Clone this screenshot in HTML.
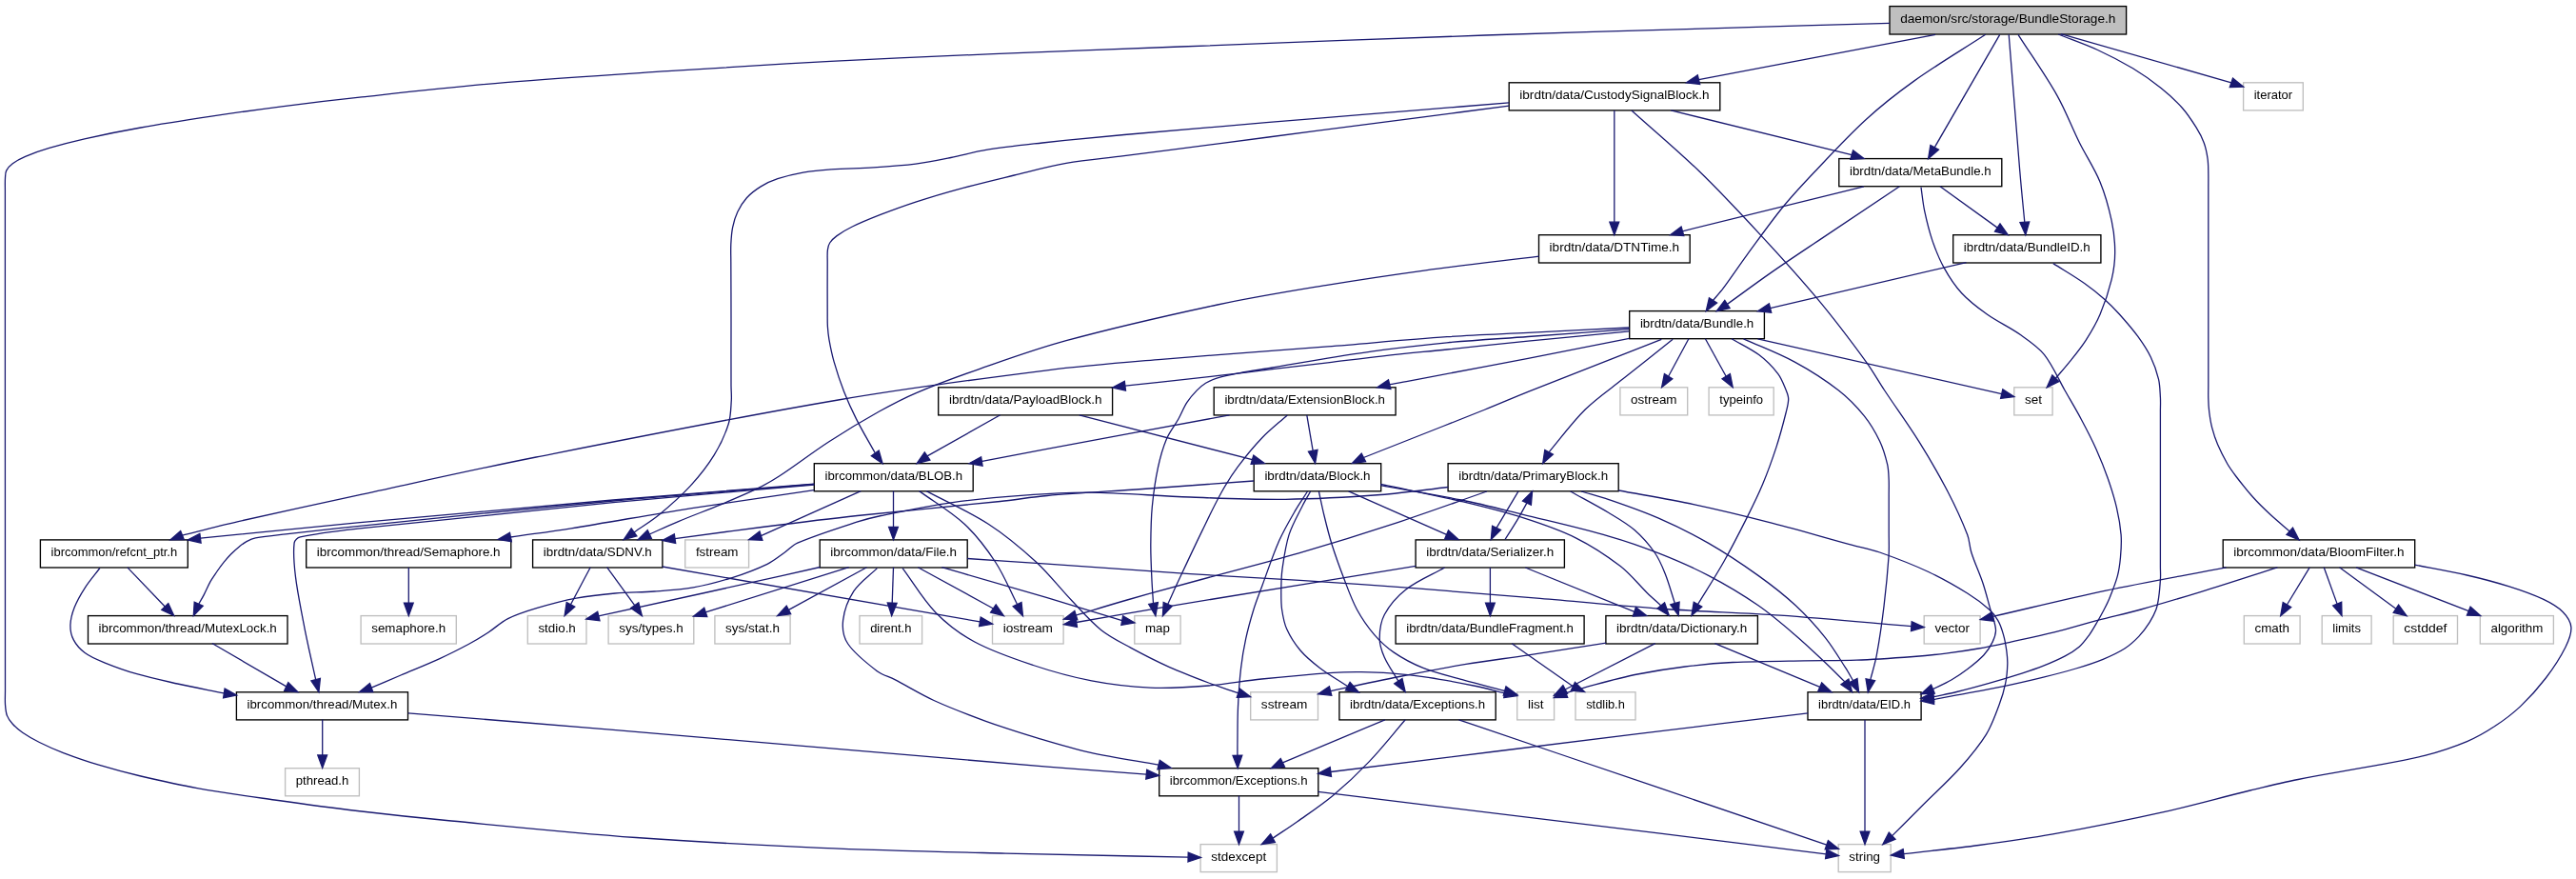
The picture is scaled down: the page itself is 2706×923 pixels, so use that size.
<!DOCTYPE html><html><head><meta charset="utf-8"><title>graph</title><style>html,body{margin:0;padding:0;background:#fff}svg{display:block;will-change:transform}text{font-family:"Liberation Sans",sans-serif;font-size:13.4px;fill:#000;text-anchor:middle}.e{fill:none;stroke:#191970;stroke-width:1.3}.a{fill:#191970;stroke:#191970;stroke-width:1.3;stroke-linejoin:miter}.n{fill:#fff;stroke:#000;stroke-width:1.35}.g{fill:#fff;stroke:#bfbfbf;stroke-width:1.35}.r{fill:#bfbfbf;stroke:#000;stroke-width:1.35}</style></head><body>
<svg width="2706" height="923" viewBox="0 0 2706 923">
<rect width="2706" height="923" fill="#fff"/>
<rect class="r" x="1985.0" y="6.6" width="248.6" height="29.4"/>
<text x="2109.3" y="23.7" textLength="226.3" lengthAdjust="spacingAndGlyphs">daemon/src/storage/BundleStorage.h</text>
<rect class="n" x="1585.2" y="86.8" width="221.6" height="29.1"/>
<text x="1696.0" y="103.8" textLength="199.3" lengthAdjust="spacingAndGlyphs">ibrdtn/data/CustodySignalBlock.h</text>
<rect class="g" x="2356.6" y="86.8" width="62.7" height="29.1"/>
<text x="2387.9" y="103.8" textLength="40.4" lengthAdjust="spacingAndGlyphs">iterator</text>
<rect class="n" x="1931.8" y="166.6" width="171.0" height="29.1"/>
<text x="2017.3" y="183.5" textLength="148.7" lengthAdjust="spacingAndGlyphs">ibrdtn/data/MetaBundle.h</text>
<rect class="n" x="1616.5" y="246.7" width="158.7" height="29.3"/>
<text x="1695.8" y="263.8" textLength="136.4" lengthAdjust="spacingAndGlyphs">ibrdtn/data/DTNTime.h</text>
<rect class="n" x="2051.7" y="246.7" width="155.2" height="29.3"/>
<text x="2129.3" y="263.8" textLength="132.9" lengthAdjust="spacingAndGlyphs">ibrdtn/data/BundleID.h</text>
<rect class="n" x="1711.7" y="326.6" width="141.7" height="29.1"/>
<text x="1782.6" y="343.5" textLength="119.4" lengthAdjust="spacingAndGlyphs">ibrdtn/data/Bundle.h</text>
<rect class="n" x="985.7" y="406.8" width="182.9" height="29.1"/>
<text x="1077.2" y="423.8" textLength="160.6" lengthAdjust="spacingAndGlyphs">ibrdtn/data/PayloadBlock.h</text>
<rect class="n" x="1275.2" y="406.8" width="190.9" height="29.1"/>
<text x="1370.7" y="423.8" textLength="168.6" lengthAdjust="spacingAndGlyphs">ibrdtn/data/ExtensionBlock.h</text>
<rect class="g" x="1701.9" y="406.8" width="70.8" height="29.1"/>
<text x="1737.3" y="423.8" textLength="48.5" lengthAdjust="spacingAndGlyphs">ostream</text>
<rect class="g" x="1795.1" y="406.8" width="68.1" height="29.1"/>
<text x="1829.2" y="423.8" textLength="45.8" lengthAdjust="spacingAndGlyphs">typeinfo</text>
<rect class="g" x="2115.8" y="406.8" width="40.3" height="29.1"/>
<text x="2135.9" y="423.8" textLength="18.0" lengthAdjust="spacingAndGlyphs">set</text>
<rect class="n" x="855.3" y="486.7" width="166.9" height="29.1"/>
<text x="938.8" y="503.6" textLength="144.6" lengthAdjust="spacingAndGlyphs">ibrcommon/data/BLOB.h</text>
<rect class="n" x="1317.2" y="486.7" width="133.5" height="29.1"/>
<text x="1384.0" y="503.6" textLength="111.2" lengthAdjust="spacingAndGlyphs">ibrdtn/data/Block.h</text>
<rect class="n" x="1521.1" y="486.7" width="179.1" height="29.1"/>
<text x="1610.7" y="503.6" textLength="156.8" lengthAdjust="spacingAndGlyphs">ibrdtn/data/PrimaryBlock.h</text>
<rect class="n" x="42.4" y="566.9" width="154.9" height="29.1"/>
<text x="119.9" y="583.9" textLength="132.6" lengthAdjust="spacingAndGlyphs">ibrcommon/refcnt_ptr.h</text>
<rect class="n" x="321.7" y="566.9" width="215.1" height="29.1"/>
<text x="429.2" y="583.9" textLength="192.8" lengthAdjust="spacingAndGlyphs">ibrcommon/thread/Semaphore.h</text>
<rect class="n" x="559.6" y="566.9" width="136.3" height="29.1"/>
<text x="627.8" y="583.9" textLength="114.0" lengthAdjust="spacingAndGlyphs">ibrdtn/data/SDNV.h</text>
<rect class="g" x="719.7" y="566.9" width="66.9" height="29.1"/>
<text x="753.2" y="583.9" textLength="44.6" lengthAdjust="spacingAndGlyphs">fstream</text>
<rect class="n" x="861.2" y="566.9" width="155.0" height="29.1"/>
<text x="938.7" y="583.9" textLength="132.7" lengthAdjust="spacingAndGlyphs">ibrcommon/data/File.h</text>
<rect class="n" x="1487.1" y="566.9" width="156.3" height="29.1"/>
<text x="1565.2" y="583.9" textLength="134.0" lengthAdjust="spacingAndGlyphs">ibrdtn/data/Serializer.h</text>
<rect class="n" x="2335.2" y="566.9" width="201.5" height="29.1"/>
<text x="2435.9" y="583.9" textLength="179.2" lengthAdjust="spacingAndGlyphs">ibrcommon/data/BloomFilter.h</text>
<rect class="n" x="92.5" y="646.6" width="209.5" height="29.4"/>
<text x="197.2" y="663.7" textLength="187.2" lengthAdjust="spacingAndGlyphs">ibrcommon/thread/MutexLock.h</text>
<rect class="g" x="379.1" y="646.6" width="100.2" height="29.4"/>
<text x="429.2" y="663.7" textLength="77.9" lengthAdjust="spacingAndGlyphs">semaphore.h</text>
<rect class="g" x="554.3" y="646.6" width="61.7" height="29.4"/>
<text x="585.1" y="663.7" textLength="39.4" lengthAdjust="spacingAndGlyphs">stdio.h</text>
<rect class="g" x="639.1" y="646.6" width="89.7" height="29.4"/>
<text x="684.0" y="663.7" textLength="67.4" lengthAdjust="spacingAndGlyphs">sys/types.h</text>
<rect class="g" x="750.9" y="646.6" width="79.2" height="29.4"/>
<text x="790.5" y="663.7" textLength="56.9" lengthAdjust="spacingAndGlyphs">sys/stat.h</text>
<rect class="g" x="903.0" y="646.6" width="65.6" height="29.4"/>
<text x="935.8" y="663.7" textLength="43.3" lengthAdjust="spacingAndGlyphs">dirent.h</text>
<rect class="g" x="1042.5" y="646.6" width="74.6" height="29.4"/>
<text x="1079.8" y="663.7" textLength="52.3" lengthAdjust="spacingAndGlyphs">iostream</text>
<rect class="g" x="1191.8" y="646.6" width="48.3" height="29.4"/>
<text x="1215.9" y="663.7" textLength="26.0" lengthAdjust="spacingAndGlyphs">map</text>
<rect class="n" x="1466.1" y="646.6" width="198.0" height="29.4"/>
<text x="1565.1" y="663.7" textLength="175.7" lengthAdjust="spacingAndGlyphs">ibrdtn/data/BundleFragment.h</text>
<rect class="n" x="1686.9" y="646.6" width="159.5" height="29.4"/>
<text x="1766.7" y="663.7" textLength="137.2" lengthAdjust="spacingAndGlyphs">ibrdtn/data/Dictionary.h</text>
<rect class="g" x="2021.2" y="646.6" width="58.9" height="29.4"/>
<text x="2050.7" y="663.7" textLength="36.6" lengthAdjust="spacingAndGlyphs">vector</text>
<rect class="g" x="2357.3" y="646.6" width="58.8" height="29.4"/>
<text x="2386.7" y="663.7" textLength="36.5" lengthAdjust="spacingAndGlyphs">cmath</text>
<rect class="g" x="2439.2" y="646.6" width="51.9" height="29.4"/>
<text x="2465.1" y="663.7" textLength="29.6" lengthAdjust="spacingAndGlyphs">limits</text>
<rect class="g" x="2514.2" y="646.6" width="67.3" height="29.4"/>
<text x="2547.8" y="663.7" textLength="45.0" lengthAdjust="spacingAndGlyphs">cstddef</text>
<rect class="g" x="2605.3" y="646.6" width="77.1" height="29.4"/>
<text x="2643.9" y="663.7" textLength="54.8" lengthAdjust="spacingAndGlyphs">algorithm</text>
<rect class="n" x="248.4" y="726.8" width="180.1" height="29.1"/>
<text x="338.4" y="743.7" textLength="157.8" lengthAdjust="spacingAndGlyphs">ibrcommon/thread/Mutex.h</text>
<rect class="g" x="1313.7" y="726.8" width="70.8" height="29.1"/>
<text x="1349.1" y="743.7" textLength="48.5" lengthAdjust="spacingAndGlyphs">sstream</text>
<rect class="n" x="1406.9" y="726.8" width="164.3" height="29.1"/>
<text x="1489.1" y="743.7" textLength="142.0" lengthAdjust="spacingAndGlyphs">ibrdtn/data/Exceptions.h</text>
<rect class="g" x="1593.7" y="726.8" width="38.9" height="29.1"/>
<text x="1613.2" y="743.7" textLength="16.6" lengthAdjust="spacingAndGlyphs">list</text>
<rect class="g" x="1655.0" y="726.8" width="63.0" height="29.1"/>
<text x="1686.5" y="743.7" textLength="40.7" lengthAdjust="spacingAndGlyphs">stdlib.h</text>
<rect class="n" x="1899.0" y="726.8" width="119.1" height="29.1"/>
<text x="1958.5" y="743.7" textLength="96.8" lengthAdjust="spacingAndGlyphs">ibrdtn/data/EID.h</text>
<rect class="g" x="299.6" y="806.7" width="77.8" height="29.1"/>
<text x="338.5" y="823.6" textLength="55.5" lengthAdjust="spacingAndGlyphs">pthread.h</text>
<rect class="n" x="1217.7" y="806.7" width="167.1" height="29.1"/>
<text x="1301.2" y="823.6" textLength="144.8" lengthAdjust="spacingAndGlyphs">ibrcommon/Exceptions.h</text>
<rect class="g" x="1261.1" y="886.6" width="80.3" height="29.0"/>
<text x="1301.2" y="903.5" textLength="58.0" lengthAdjust="spacingAndGlyphs">stdexcept</text>
<rect class="g" x="1931.2" y="886.6" width="55.0" height="29.0"/>
<text x="1958.7" y="903.5" textLength="32.7" lengthAdjust="spacingAndGlyphs">string</text>
<path class="e" d="M1985.0,24.3C1924.7,26.1 1864.3,27.8 1804.0,29.6C1722.7,32.0 1641.3,34.2 1560.0,37.0C1453.3,40.7 1346.7,45.0 1240.0,49.0C1174.4,51.5 1108.9,53.9 1043.3,56.6C986.4,59.0 929.4,61.4 872.5,64.4C815.5,67.4 758.5,71.0 701.6,74.7C644.6,78.4 587.7,81.8 530.8,86.6C480.5,90.9 430.2,96.5 380.0,101.9C351.9,104.9 323.9,108.2 295.9,111.8C271.2,115.0 246.5,118.5 221.9,122.2C197.2,125.9 172.5,129.6 147.9,134.0C128.1,137.5 108.4,141.4 88.8,145.8C76.4,148.6 64.0,151.8 51.8,155.4C43.3,157.9 34.8,160.8 26.6,164.3C21.9,166.3 17.3,168.7 13.3,171.7C10.7,173.6 8.2,176.3 6.7,179.1C5.6,181.2 5.7,184.0 5.5,186.5C5.2,191.0 5.4,195.5 5.4,200.0C5.4,266.7 5.4,333.3 5.4,400.0C5.4,508.3 5.5,616.7 5.5,725.0C5.5,729.9 5.2,734.8 5.5,739.6C5.8,743.6 6.0,747.8 7.4,751.4C8.6,754.7 10.9,757.7 13.3,760.3C16.4,763.6 19.9,766.6 23.7,769.2C29.3,773.0 35.3,776.5 41.4,779.5C49.6,783.6 58.0,787.3 66.6,790.6C78.8,795.2 91.1,799.5 103.6,803.2C118.2,807.6 133.0,811.5 147.9,815.0C167.5,819.6 187.2,824.1 207.1,827.6C234.1,832.4 261.3,836.1 288.5,840.0C317.5,844.1 346.5,848.1 375.5,851.5C408.3,855.4 441.2,858.9 474.1,862.0C538.8,868.2 603.4,874.8 668.2,879.5C732.8,884.2 797.6,887.5 862.3,890.3C927.0,893.1 991.7,894.5 1056.4,896.1C1120.3,897.7 1184.2,898.8 1248.1,900.1"/>
<polygon class="a" points="1248.0,905.0 1261.5,900.4 1248.2,895.2"/>
<path class="e" d="M2033.1,36.3L1784.5,83.6"/>
<polygon class="a" points="1783.3,78.9 1771.5,86.9 1785.7,88.4"/>
<path class="e" d="M2085.7,36.3C2060.7,52.6 2034.9,67.8 2010.6,85.1C1993.2,97.5 1976.3,110.8 1960.5,125.2C1941.6,142.4 1924.2,161.4 1906.6,180.0C1895.0,192.2 1883.4,204.5 1872.8,217.5C1859.6,233.7 1847.6,250.8 1835.2,267.6C1826.7,279.2 1818.8,291.2 1810.2,302.7C1806.9,307.1 1803.1,311.2 1799.5,315.5"/>
<polygon class="a" points="1795.4,312.8 1792.2,326.7 1803.6,318.1"/>
<path class="e" d="M2100.7,36.3L2032.2,154.8"/>
<polygon class="a" points="2027.9,152.4 2025.6,166.5 2036.5,157.2"/>
<path class="e" d="M2110.2,36.3C2114.1,84.2 2117.8,132.1 2121.8,180.0C2123.3,197.8 2125.1,215.5 2126.8,233.2"/>
<polygon class="a" points="2121.9,233.6 2127.8,246.6 2131.7,232.9"/>
<path class="e" d="M2120.0,36.3C2133.6,57.6 2148.4,78.2 2160.8,100.1C2169.9,116.1 2176.3,133.5 2184.5,150.0C2191.4,163.8 2200.2,176.8 2206.0,191.0C2211.4,204.1 2215.2,218.0 2218.2,231.9C2220.5,242.6 2221.7,253.8 2221.7,264.7C2221.7,274.3 2220.4,284.1 2218.2,293.4C2215.2,305.8 2211.1,318.2 2206.1,330.0C2202.1,339.5 2196.7,348.6 2191.1,357.3C2186.2,364.9 2180.4,372.0 2174.7,379.1C2169.8,385.3 2164.5,391.2 2159.3,397.3"/>
<polygon class="a" points="2155.8,393.9 2150.1,407.0 2162.9,400.7"/>
<path class="e" d="M2162.1,36.0C2175.9,41.5 2190.1,46.3 2203.6,52.5C2216.2,58.3 2228.6,64.7 2240.5,71.8C2250.8,78.0 2260.7,85.0 2270.1,92.5C2278.0,98.8 2285.6,105.7 2292.3,113.2C2297.9,119.5 2302.6,126.7 2307.1,133.9C2310.3,139.0 2313.2,144.4 2315.2,150.0C2317.2,155.4 2318.3,161.3 2319.1,167.0C2319.8,172.0 2319.7,177.1 2319.8,182.2C2319.9,187.1 2319.8,192.1 2319.8,197.0C2319.8,231.3 2319.8,265.7 2319.8,300.0C2319.8,335.0 2319.8,370.0 2319.8,405.0C2319.8,409.7 2319.6,414.3 2319.8,419.0C2319.9,423.5 2320.1,428.0 2320.7,432.5C2321.4,438.0 2322.2,443.5 2323.6,448.8C2325.2,454.8 2327.1,460.9 2329.5,466.6C2332.5,473.7 2336.1,480.6 2339.9,487.3C2342.5,491.8 2345.6,495.9 2348.7,500.0C2354.4,507.4 2360.2,514.8 2366.4,521.8C2372.1,528.2 2378.3,534.2 2384.6,540.0C2391.3,546.2 2398.3,551.9 2405.2,557.9"/>
<polygon class="a" points="2401.9,561.5 2415.1,566.9 2408.5,554.2"/>
<path class="e" d="M2164.9,35.7L2343.9,86.8"/>
<polygon class="a" points="2342.3,91.5 2356.6,91.1 2345.5,82.2"/>
<path class="e" d="M1585.2,107.8C1551.4,110.6 1517.5,113.4 1483.7,116.2C1450.1,118.9 1416.4,121.5 1382.8,124.3C1349.2,127.1 1315.5,129.9 1281.9,132.8C1248.2,135.7 1214.5,138.4 1180.9,141.5C1152.2,144.1 1123.6,146.9 1095.0,150.0C1075.3,152.2 1055.5,154.2 1035.9,157.4C1023.4,159.4 1011.3,163.0 998.9,165.5C986.6,168.0 974.3,170.6 961.9,172.2C947.2,174.1 932.3,175.0 917.5,175.9C902.7,176.8 887.9,176.8 873.1,177.8C863.2,178.5 853.3,179.4 843.6,181.1C834.6,182.7 825.6,184.8 816.9,187.7C810.8,189.7 804.7,192.5 799.2,195.9C793.9,199.2 788.6,203.1 784.4,207.7C780.5,212.0 777.3,217.2 774.8,222.5C772.4,227.6 770.7,233.2 769.6,238.8C768.4,244.6 768.1,250.6 767.8,256.5C767.5,262.7 767.8,268.8 767.8,275.0C767.9,296.7 768.0,318.3 768.0,340.0C768.0,361.7 767.9,383.3 768.0,405.0C768.0,410.0 768.6,415.0 768.3,420.0C767.7,428.4 767.8,437.1 765.3,445.0C761.8,456.3 756.5,467.5 750.3,477.6C743.2,489.2 734.5,500.1 725.3,510.1C715.3,520.9 704.1,530.8 692.7,540.2C684.4,547.1 674.9,552.6 666.1,558.9"/>
<polygon class="a" points="663.2,554.9 655.2,566.7 668.9,562.8"/>
<path class="e" d="M1585.2,111.2C1551.4,115.6 1517.5,119.9 1483.7,124.3C1450.1,128.7 1416.4,133.0 1382.8,137.4C1349.2,141.8 1315.5,146.2 1281.9,150.6C1248.2,155.0 1214.6,159.4 1180.9,163.7C1160.6,166.3 1140.1,167.9 1120.0,171.4C1101.6,174.6 1083.6,179.6 1065.4,184.0C1045.7,188.8 1025.9,193.5 1006.3,198.8C991.4,202.8 976.6,207.3 961.9,212.1C949.4,216.2 937.1,220.7 924.9,225.4C914.9,229.3 904.9,233.3 895.3,238.0C889.7,240.7 884.2,244.0 879.1,247.6C876.3,249.6 873.6,252.2 871.7,255.0C870.3,257.1 869.7,259.9 869.4,262.4C868.9,266.5 869.2,270.8 869.2,275.0C869.1,293.3 869.1,311.7 869.2,330.0C869.2,334.3 869.1,338.7 869.4,343.0C869.7,347.5 870.1,352.0 870.9,356.4C872.3,364.3 873.9,372.2 876.1,379.9C879.1,390.5 882.6,401.0 886.6,411.3C890.4,421.1 894.8,430.7 899.6,440.1C905.7,452.2 912.7,463.9 919.3,475.8"/>
<polygon class="a" points="915.3,478.7 927.1,486.7 923.2,473.0"/>
<path class="e" d="M1695.8,115.9L1695.8,233.2"/>
<polygon class="a" points="1690.9,233.2 1695.8,246.6 1700.7,233.2"/>
<path class="e" d="M1713.9,115.9C1737.7,137.3 1762.2,157.8 1785.2,180.0C1807.7,201.7 1829.0,224.7 1850.2,247.6C1870.7,269.7 1891.0,292.0 1910.3,315.2C1927.8,336.2 1944.3,358.1 1960.4,380.1C1967.4,389.7 1973.1,400.1 1979.7,410.0C1991.5,427.8 2004.2,445.1 2015.5,463.2C2026.4,480.6 2036.7,498.3 2046.2,516.5C2053.8,531.1 2060.8,546.2 2066.7,561.5C2069.0,567.4 2068.9,574.0 2070.8,580.0C2074.3,591.1 2079.4,601.7 2083.1,612.8C2086.2,622.2 2088.5,631.9 2091.3,641.4C2092.2,644.4 2093.5,647.2 2094.2,650.2C2095.2,654.3 2096.7,658.7 2096.5,662.8C2096.3,666.6 2094.8,670.6 2093.1,674.1C2090.7,679.0 2087.7,683.8 2084.0,687.8C2078.9,693.3 2072.9,698.0 2066.9,702.6C2061.5,706.8 2055.7,710.6 2049.8,714.0C2043.6,717.6 2036.9,720.4 2030.4,723.6"/>
<polygon class="a" points="2028.6,719.1 2018.0,728.7 2032.3,728.2"/>
<path class="e" d="M1755.2,115.9L1945.2,162.6"/>
<polygon class="a" points="1943.8,167.3 1958.0,166.5 1946.6,157.9"/>
<path class="e" d="M1957.9,195.8L1767.4,242.8"/>
<polygon class="a" points="1766.1,238.1 1754.6,246.6 1768.8,247.5"/>
<path class="e" d="M1995.4,195.8C1967.0,214.7 1938.6,233.6 1910.3,252.6C1893.6,263.8 1876.8,274.9 1860.3,286.4C1844.8,297.2 1829.7,308.4 1814.4,319.4"/>
<polygon class="a" points="1811.8,315.3 1803.2,326.7 1817.1,323.5"/>
<path class="e" d="M2018.0,196.7C2019.2,205.0 2020.0,213.5 2021.7,221.7C2023.9,232.0 2026.4,242.4 2029.8,252.4C2033.2,262.2 2037.1,272.1 2042.1,281.1C2047.3,290.5 2053.3,299.8 2060.6,307.7C2068.4,316.1 2077.9,323.3 2087.3,330.0C2098.6,338.0 2111.5,343.8 2122.8,351.8C2131.5,357.9 2140.9,364.1 2147.4,372.3C2156.3,383.5 2161.9,397.4 2169.1,410.0C2174.9,420.2 2181.0,430.3 2186.5,440.7C2191.9,450.8 2197.2,461.0 2201.9,471.4C2206.4,481.5 2210.6,491.8 2214.2,502.2C2217.7,512.3 2221.0,522.5 2223.4,532.9C2225.6,542.3 2227.3,551.9 2228.1,561.5C2228.7,569.3 2228.2,577.2 2227.5,585.0C2226.9,591.6 2226.1,598.2 2224.4,604.6C2222.3,612.6 2219.1,620.3 2216.0,628.0C2214.4,632.1 2212.3,636.1 2210.3,640.0C2208.1,644.2 2205.8,648.4 2203.4,652.5C2200.5,657.5 2197.7,662.6 2194.3,667.3C2191.2,671.5 2188.0,675.9 2184.1,679.3C2179.7,683.1 2174.5,686.2 2169.3,688.9C2161.9,692.8 2154.2,696.1 2146.5,699.2C2139.1,702.2 2131.4,704.7 2123.8,707.1C2112.5,710.7 2101.1,714.1 2089.6,717.4C2078.3,720.6 2066.9,723.7 2055.5,726.5C2047.5,728.5 2039.3,730.0 2031.2,731.8"/>
<polygon class="a" points="2030.7,726.9 2017.9,733.3 2031.8,736.6"/>
<path class="e" d="M2038.0,195.8L2098.2,239.1"/>
<polygon class="a" points="2095.5,243.1 2109.3,246.6 2101.0,235.0"/>
<path class="e" d="M1616.8,269.1C1577.1,274.0 1537.3,278.4 1497.7,283.8C1462.6,288.6 1427.5,293.8 1392.5,299.6C1354.6,305.9 1316.6,312.0 1279.0,320.0C1225.7,331.4 1172.5,343.5 1120.0,357.7C1088.8,366.1 1058.4,377.2 1027.9,387.8C1005.9,395.5 983.9,403.5 962.5,412.6C949.0,418.3 936.0,425.2 923.2,432.3C905.5,442.2 888.0,452.7 870.9,463.7C853.1,475.2 836.3,488.4 818.5,500.0C811.0,504.9 803.2,509.3 795.2,513.2C782.5,519.3 769.4,524.7 756.4,530.1C741.9,536.1 727.1,541.5 712.6,547.6C702.4,551.8 692.4,556.5 682.3,561.0"/>
<polygon class="a" points="680.2,556.6 670.2,566.7 684.4,565.4"/>
<path class="e" d="M2065.5,275.6L1859.5,323.6"/>
<polygon class="a" points="1858.4,318.8 1846.5,326.7 1860.7,328.3"/>
<path class="e" d="M2156.8,276.6C2167.7,283.6 2179.0,290.1 2189.6,297.5C2196.7,302.5 2203.6,308.0 2210.1,313.8C2215.8,318.9 2221.3,324.3 2226.4,330.0C2233.1,337.5 2239.8,345.1 2245.7,353.2C2250.7,360.1 2255.6,367.3 2259.3,375.0C2262.9,382.3 2265.6,390.3 2267.5,398.2C2269.0,404.4 2269.0,410.9 2269.4,417.3C2269.7,422.2 2269.4,427.1 2269.4,432.0C2269.4,454.7 2269.4,477.3 2269.4,500.0C2269.4,531.7 2269.4,563.3 2269.4,595.0C2269.4,599.0 2269.7,603.0 2269.5,607.0C2269.1,613.9 2268.6,620.8 2267.6,627.6C2267.0,631.8 2266.3,636.1 2264.9,640.0C2263.1,644.8 2260.7,649.4 2258.0,653.7C2254.7,658.9 2250.9,664.0 2246.7,668.4C2242.2,673.1 2237.3,677.6 2231.9,681.0C2224.8,685.5 2216.9,689.1 2209.1,692.3C2199.9,696.1 2190.3,699.1 2180.7,702.0C2169.4,705.4 2158.0,708.3 2146.5,711.1C2131.4,714.8 2116.2,718.3 2101.0,721.4C2085.9,724.5 2070.7,727.0 2055.5,729.9C2047.4,731.4 2039.3,733.0 2031.2,734.6"/>
<polygon class="a" points="2030.7,729.7 2017.9,736.0 2031.7,739.4"/>
<path class="e" d="M1711.5,344.0C1676.1,345.8 1640.6,347.6 1605.2,349.4C1576.8,350.8 1548.4,351.7 1520.0,353.7C1478.2,356.6 1436.5,360.6 1394.7,363.9C1336.5,368.5 1278.2,372.4 1220.0,377.3C1180.0,380.7 1139.9,383.8 1100.0,388.8C1026.7,398.0 953.3,407.6 880.5,420.0C774.4,438.0 668.8,459.1 563.2,480.0C500.4,492.4 438.0,506.6 375.5,520.1C333.7,529.1 292.0,538.1 250.3,547.6C230.6,552.1 211.1,557.2 191.5,562.1"/>
<polygon class="a" points="189.7,557.5 179.0,566.9 193.3,566.6"/>
<path class="e" d="M1711.5,345.7C1676.1,348.3 1640.6,350.9 1605.2,353.5C1576.8,355.6 1548.4,357.2 1520.0,359.8C1497.6,361.8 1475.2,364.5 1452.9,367.4C1433.5,369.9 1414.1,373.0 1394.7,376.1C1375.3,379.2 1355.9,382.7 1336.5,386.0C1324.8,388.0 1313.1,389.6 1301.5,391.8C1293.7,393.3 1285.8,394.8 1278.2,397.1C1274.2,398.3 1270.2,400.1 1266.6,402.3C1263.2,404.4 1260.1,407.0 1257.3,409.9C1253.5,413.8 1249.8,418.1 1246.8,422.7C1243.3,428.1 1241.1,434.3 1237.9,440.0C1234.0,446.9 1228.7,453.2 1225.6,460.5C1221.5,470.3 1218.6,480.8 1216.4,491.2C1213.5,504.7 1211.6,518.5 1210.3,532.2C1209.0,545.8 1208.9,559.5 1208.8,573.1C1208.8,585.4 1209.4,597.7 1210.0,610.0C1210.4,617.8 1211.0,625.7 1211.5,633.5"/>
<polygon class="a" points="1206.7,634.4 1213.9,646.7 1216.4,632.6"/>
<path class="e" d="M1711.5,347.8C1676.1,351.3 1640.6,354.6 1605.2,358.2C1576.8,361.0 1548.4,364.1 1520.0,367.0C1497.6,369.3 1475.2,371.3 1452.9,373.8C1433.5,375.9 1414.1,378.5 1394.7,380.8C1375.3,383.1 1355.9,385.4 1336.5,387.7C1317.1,390.0 1297.6,392.5 1278.2,394.7C1258.8,396.9 1239.4,399.0 1220.0,401.1C1207.3,402.5 1194.6,403.8 1181.9,405.2"/>
<polygon class="a" points="1181.3,400.3 1168.6,406.9 1182.5,410.1"/>
<path class="e" d="M1711.5,355.4C1676.1,362.4 1640.7,369.5 1605.2,376.3C1563.5,384.4 1521.7,392.2 1480.0,400.1C1473.2,401.4 1466.5,402.5 1459.7,403.7"/>
<polygon class="a" points="1458.5,398.9 1446.7,406.9 1460.9,408.4"/>
<path class="e" d="M1745.3,356.3C1698.6,374.7 1651.8,392.8 1605.2,411.4C1590.1,417.4 1575.2,424.0 1560.1,430.0C1517.6,447.0 1474.9,463.6 1432.4,480.5"/>
<polygon class="a" points="1430.2,476.1 1420.4,486.5 1434.6,484.8"/>
<path class="e" d="M1757.2,356.3C1739.9,370.1 1722.6,383.8 1705.3,397.6C1691.9,408.3 1677.4,418.0 1665.2,430.0C1651.3,443.7 1639.8,459.8 1627.1,474.8"/>
<polygon class="a" points="1622.8,472.4 1620.7,486.5 1631.4,477.1"/>
<path class="e" d="M1773.9,355.8L1752.6,395.2"/>
<polygon class="a" points="1748.4,392.6 1745.6,406.6 1756.8,397.7"/>
<path class="e" d="M1791.4,355.8L1813.2,395.2"/>
<polygon class="a" points="1809.0,397.7 1820.2,406.6 1817.4,392.6"/>
<path class="e" d="M1819.0,355.8C1828.6,361.4 1838.9,366.0 1847.7,372.6C1855.2,378.2 1862.1,385.2 1867.8,392.6C1871.7,397.7 1873.8,404.1 1876.3,410.0C1877.5,412.9 1878.7,416.0 1878.7,419.0C1878.7,423.5 1877.4,428.1 1876.3,432.5C1873.2,444.9 1869.9,457.3 1866.0,469.4C1861.7,482.5 1857.0,495.6 1851.7,508.3C1846.8,520.1 1841.1,531.6 1835.3,543.1C1827.4,558.9 1819.4,574.6 1810.7,590.0C1802.1,605.2 1792.6,619.8 1783.5,634.7"/>
<polygon class="a" points="1779.3,632.2 1776.9,646.3 1787.8,637.1"/>
<path class="e" d="M1831.5,355.8C1849.4,363.9 1868.0,370.7 1885.3,380.1C1901.4,388.8 1917.1,398.8 1931.5,410.0C1941.4,417.7 1950.3,426.9 1958.2,436.6C1964.7,444.6 1970.1,453.9 1974.6,463.2C1978.3,470.9 1980.7,479.4 1982.7,487.8C1983.9,493.1 1983.9,498.7 1984.2,504.2C1984.4,509.5 1984.2,514.7 1984.2,520.0C1984.2,533.3 1984.2,546.7 1984.2,560.0C1984.2,567.8 1984.6,575.7 1984.1,583.5C1982.9,601.0 1981.2,618.4 1979.1,635.8C1977.0,653.3 1974.5,670.9 1971.3,688.2C1969.7,696.8 1967.0,705.2 1964.8,713.6"/>
<polygon class="a" points="1960.0,712.7 1962.3,726.8 1969.6,714.6"/>
<path class="e" d="M1846.5,355.8L2102.7,413.6"/>
<polygon class="a" points="2101.6,418.4 2115.8,416.6 2103.8,408.9"/>
<path class="e" d="M1050.7,435.8L974.1,478.9"/>
<polygon class="a" points="971.3,474.9 963.1,486.6 976.9,483.0"/>
<path class="e" d="M1133.8,435.9L1315.4,482.7"/>
<polygon class="a" points="1314.1,487.4 1328.3,486.5 1316.8,478.0"/>
<path class="e" d="M1291.5,435.9C1227.7,447.7 1163.8,459.5 1100.0,471.4C1077.1,475.7 1054.2,480.1 1031.3,484.5"/>
<polygon class="a" points="1030.6,479.7 1018.1,486.6 1032.1,489.3"/>
<path class="e" d="M1352.3,435.9C1343.3,444.0 1333.7,451.5 1325.3,460.2C1316.3,469.6 1308.0,479.8 1300.3,490.2C1293.8,498.9 1288.0,508.2 1282.7,517.7C1275.5,530.7 1269.2,544.2 1262.7,557.6C1255.0,573.4 1247.6,589.2 1240.2,605.1C1235.6,614.8 1231.2,624.6 1226.7,634.4"/>
<polygon class="a" points="1222.2,632.5 1221.4,646.7 1231.2,636.4"/>
<path class="e" d="M1372.8,435.9L1379.2,473.3"/>
<polygon class="a" points="1374.4,474.2 1381.6,486.5 1384.0,472.4"/>
<path class="e" d="M855.2,508.1C784.8,513.7 714.4,519.0 644.0,525.0C554.5,532.6 465.0,540.5 375.5,548.8C320.5,553.9 265.5,559.8 210.5,565.2"/>
<polygon class="a" points="209.9,560.4 197.2,566.9 211.1,570.1"/>
<path class="e" d="M855.2,508.5C784.8,514.3 714.3,519.5 644.0,526.0C554.4,534.2 465.0,543.5 375.5,552.6C350.3,555.1 325.1,557.9 300.0,560.8C289.4,562.0 278.8,562.9 268.4,564.9C265.1,565.5 262.0,567.0 259.0,568.6C256.3,570.0 253.8,572.0 251.4,573.9C248.3,576.4 245.3,579.2 242.5,582.0C240.0,584.6 237.6,587.3 235.3,590.1C232.7,593.3 230.3,596.6 228.0,600.0C225.6,603.5 223.1,606.9 221.0,610.6C218.5,615.1 216.6,620.0 214.2,624.6C212.5,627.9 210.5,631.0 208.7,634.2"/>
<polygon class="a" points="204.2,632.3 203.3,646.5 213.2,636.2"/>
<path class="e" d="M855.2,509.0C784.8,515.2 714.3,520.8 644.0,527.6C554.4,536.2 464.9,545.2 375.5,555.1C355.4,557.3 334.7,559.5 315.4,563.9C312.6,564.5 309.4,567.3 309.1,570.1C307.8,581.1 309.0,593.6 310.4,605.2C312.4,622.0 316.0,638.6 319.1,655.2C320.6,663.5 322.4,671.7 324.2,680.0C326.6,691.2 329.2,702.4 331.7,713.6"/>
<polygon class="a" points="326.9,714.8 334.9,726.6 336.4,712.4"/>
<path class="e" d="M855.2,514.6C811.9,521.0 768.5,527.0 725.2,533.8C683.4,540.4 641.8,548.1 600.0,554.8C578.8,558.2 557.6,560.9 536.4,564.0"/>
<polygon class="a" points="535.5,559.2 523.2,566.4 537.3,568.8"/>
<path class="e" d="M904.3,515.6L799.4,562.6"/>
<polygon class="a" points="797.9,557.9 786.6,566.7 800.9,567.3"/>
<path class="e" d="M938.5,515.6L938.5,553.3"/>
<polygon class="a" points="933.6,553.3 938.5,566.7 943.4,553.3"/>
<path class="e" d="M965.6,515.6C981.4,527.1 998.9,537.0 1013.1,550.2C1025.5,561.8 1036.2,575.8 1045.5,590.0C1054.7,603.9 1060.9,619.8 1068.6,634.7"/>
<polygon class="a" points="1064.2,636.8 1074.5,646.7 1073.0,632.5"/>
<path class="e" d="M973.1,515.6C994.8,527.1 1017.6,536.9 1038.2,550.2C1056.0,561.7 1072.6,575.6 1088.3,590.0C1102.0,602.6 1113.3,617.6 1126.2,631.0C1136.2,641.5 1145.7,652.7 1156.9,661.7C1166.2,669.1 1177.2,674.4 1187.7,680.1C1201.1,687.4 1214.7,694.3 1228.6,700.6C1242.0,706.6 1255.8,711.8 1269.6,717.0C1279.9,720.9 1290.4,724.2 1300.8,727.8"/>
<polygon class="a" points="1299.3,732.4 1313.6,731.8 1302.3,723.1"/>
<path class="e" d="M1317.0,505.0C1278.0,507.8 1239.1,510.7 1200.1,513.5C1166.7,515.9 1133.3,517.6 1100.0,520.5C1083.5,521.9 1067.2,524.8 1050.7,526.5C1000.7,531.8 950.5,536.1 900.5,541.5C867.1,545.1 833.7,549.3 800.4,553.5C769.9,557.3 739.4,561.6 709.0,565.7"/>
<polygon class="a" points="708.3,560.8 695.7,567.6 709.7,570.5"/>
<path class="e" d="M1416.6,515.8L1519.6,561.4"/>
<polygon class="a" points="1517.7,566.0 1532.0,566.6 1521.5,556.9"/>
<path class="e" d="M1450.3,508.3C1478.6,514.4 1507.0,519.9 1535.1,526.5C1556.5,531.6 1578.0,536.7 1599.0,543.4C1618.1,549.5 1637.4,555.9 1655.3,564.8C1671.8,573.0 1687.6,583.3 1702.2,594.5C1712.7,602.6 1720.9,613.4 1730.4,622.7C1735.1,627.2 1740.0,631.5 1744.8,635.9"/>
<polygon class="a" points="1741.0,639.0 1753.3,646.3 1748.6,632.8"/>
<path class="e" d="M1450.3,509.6C1478.6,514.7 1507.0,519.2 1535.1,525.0C1556.5,529.4 1577.7,534.9 1599.0,540.1C1629.4,547.6 1659.9,554.4 1690.0,563.0C1707.7,568.0 1725.2,574.1 1742.3,580.9C1760.1,587.9 1777.8,595.5 1794.7,604.4C1812.7,613.8 1830.3,624.3 1847.0,635.8C1860.8,645.3 1873.5,656.3 1886.2,667.2C1897.0,676.4 1907.3,686.3 1917.6,696.0C1924.5,702.5 1931.1,709.2 1937.9,715.9"/>
<polygon class="a" points="1933.9,718.7 1945.6,726.8 1941.9,713.0"/>
<path class="e" d="M1385.4,516.0C1387.2,524.3 1388.9,532.7 1390.9,541.0C1393.4,551.3 1395.9,561.6 1399.1,571.7C1402.8,583.4 1407.0,595.0 1411.4,606.5C1415.7,617.8 1419.7,629.4 1425.4,640.0C1430.5,649.4 1436.8,658.5 1443.8,666.6C1449.8,673.5 1456.7,680.0 1464.3,685.1C1473.8,691.6 1484.3,697.1 1495.0,701.4C1508.2,706.7 1522.3,709.8 1536.0,713.7C1550.8,717.9 1565.8,721.6 1580.7,725.5"/>
<polygon class="a" points="1579.3,730.2 1593.5,729.3 1582.0,720.8"/>
<path class="e" d="M1376.6,516.0C1373.9,520.9 1370.9,525.7 1368.4,530.7C1363.4,540.8 1357.5,550.7 1354.1,561.4C1350.3,573.3 1348.7,585.9 1346.9,598.3C1345.9,605.5 1345.9,612.8 1345.8,620.0C1345.8,626.7 1345.6,633.4 1346.6,640.0C1347.6,646.9 1348.8,654.2 1351.7,660.5C1355.3,668.5 1360.3,676.3 1366.0,683.0C1371.9,689.9 1379.2,695.9 1386.5,701.4C1395.8,708.4 1406.0,714.2 1415.7,720.6"/>
<polygon class="a" points="1413.4,724.9 1427.5,727.0 1418.1,716.3"/>
<path class="e" d="M1373.5,516.0C1369.1,523.0 1364.3,529.7 1360.2,536.9C1354.4,546.9 1348.5,557.0 1343.8,567.6C1337.1,582.9 1331.8,599.0 1326.0,614.7C1322.9,623.1 1319.5,631.4 1316.9,640.0C1313.8,650.1 1310.9,660.4 1308.7,670.7C1306.5,680.8 1304.8,691.1 1303.6,701.4C1302.0,715.0 1301.1,728.7 1300.5,742.4C1299.9,756.0 1300.1,769.7 1299.9,783.4C1299.9,786.7 1299.9,789.9 1299.9,793.2"/>
<polygon class="a" points="1295.0,793.3 1300.2,806.6 1304.8,793.1"/>
<path class="e" d="M1521.2,511.5C1497.6,514.2 1474.1,517.7 1450.4,519.5C1417.1,522.0 1383.7,523.9 1350.3,524.3C1316.9,524.7 1283.6,523.2 1250.2,522.0C1214.8,520.8 1179.4,517.5 1144.0,517.1C1121.2,516.9 1098.4,518.4 1075.7,520.1C1050.6,521.9 1025.5,524.1 1000.6,527.6C975.4,531.2 950.4,536.4 925.5,541.5C916.9,543.3 908.3,545.5 900.0,548.2C879.1,555.0 857.9,561.6 837.8,570.1C832.7,572.2 829.0,576.8 824.4,580.0C818.4,584.2 812.6,589.1 806.0,592.3C794.2,598.0 781.7,602.6 769.1,606.6C755.7,610.8 742.0,614.5 728.2,616.9C714.7,619.3 700.9,620.0 687.2,621.0C673.6,622.0 659.8,621.8 646.2,623.0C632.5,624.2 618.8,625.6 605.3,628.1C591.5,630.7 577.8,634.4 564.3,638.4C553.9,641.5 543.3,644.8 533.6,649.6C526.2,653.3 520.1,659.4 513.1,664.0C506.4,668.3 499.6,672.5 492.6,676.3C482.5,681.7 472.3,686.9 461.9,691.6C448.4,697.8 434.6,703.2 421.0,709.0C410.7,713.4 400.4,717.7 390.1,722.1"/>
<polygon class="a" points="388.5,717.5 377.5,726.6 391.8,726.7"/>
<path class="e" d="M1561.9,516.0C1530.2,527.0 1498.6,538.6 1466.7,549.1C1432.7,560.3 1398.6,570.9 1364.3,580.9C1330.4,590.7 1296.0,599.2 1261.9,608.5C1235.9,615.6 1209.9,622.6 1184.0,630.0C1166.0,635.1 1148.2,640.7 1130.3,646.1"/>
<polygon class="a" points="1128.8,641.4 1117.5,650.1 1131.8,650.7"/>
<path class="e" d="M1595.0,515.8L1572.0,554.4"/>
<polygon class="a" points="1567.6,552.3 1566.3,566.5 1576.5,556.5"/>
<path class="e" d="M1649.6,516.0C1663.1,523.5 1676.8,530.6 1690.0,538.5C1699.3,544.1 1708.9,549.5 1717.0,556.5C1724.9,563.3 1732.0,571.5 1738.0,580.0C1742.7,586.6 1746.0,594.4 1749.0,602.0C1753.1,612.2 1755.9,623.0 1759.4,633.5"/>
<polygon class="a" points="1754.7,634.8 1763.2,646.3 1764.1,632.1"/>
<path class="e" d="M1660.9,516.0C1670.6,518.9 1680.4,521.3 1690.0,524.6C1707.6,530.7 1725.3,536.7 1742.3,544.2C1760.2,552.0 1777.8,560.7 1794.7,570.4C1812.7,580.7 1830.1,592.3 1847.0,604.4C1860.6,614.1 1874.0,624.5 1886.2,635.8C1897.5,646.3 1908.0,657.8 1917.6,669.8C1925.4,679.6 1931.8,690.6 1938.6,701.2C1941.5,705.6 1944.0,710.3 1946.7,714.8"/>
<polygon class="a" points="1942.3,717.0 1952.6,726.8 1951.0,712.6"/>
<path class="e" d="M1700.3,515.0C1726.9,519.9 1753.6,524.2 1780.0,529.8C1807.4,535.6 1834.7,542.3 1861.9,549.3C1889.3,556.3 1916.5,564.4 1943.8,571.8C1954.1,574.6 1964.6,576.5 1974.6,580.0C1991.9,586.1 2009.2,592.7 2025.8,600.5C2039.9,607.1 2053.5,614.8 2066.7,623.0C2074.8,628.0 2082.5,633.7 2089.6,640.0C2093.2,643.2 2096.3,647.2 2098.7,651.4C2101.3,655.9 2103.0,661.1 2104.4,666.2C2106.0,671.7 2107.0,677.5 2107.8,683.2C2108.4,687.7 2108.9,692.3 2108.8,696.9C2108.6,703.7 2108.1,710.7 2106.7,717.4C2105.2,725.1 2102.9,732.7 2100.1,740.0C2096.1,750.6 2092.4,761.5 2086.5,771.1C2078.8,783.5 2069.1,795.0 2059.3,806.0C2047.1,819.6 2033.4,831.9 2020.5,844.8C2009.6,855.7 1998.6,866.7 1987.6,877.6"/>
<polygon class="a" points="1984.3,874.0 1977.8,886.7 1991.0,881.2"/>
<path class="e" d="M1581.0,566.5C1585.5,559.4 1590.1,552.3 1594.4,545.1C1597.7,539.5 1600.8,533.8 1603.9,528.1"/>
<polygon class="a" points="1608.4,530.2 1609.6,516.0 1599.5,526.1"/>
<path class="e" d="M1487.2,594.3C1449.9,600.4 1412.6,606.5 1375.3,612.6C1325.3,620.8 1275.2,628.8 1225.2,637.2C1193.7,642.5 1162.2,648.1 1130.7,653.5"/>
<polygon class="a" points="1130.0,648.7 1117.5,655.6 1131.5,658.4"/>
<path class="e" d="M1517.6,596.0C1504.0,603.6 1489.0,609.5 1476.9,618.9C1467.9,625.9 1459.7,635.4 1454.4,645.2C1450.5,652.5 1449.2,661.9 1449.2,670.2C1449.2,676.8 1451.5,683.8 1454.2,690.0C1458.1,698.8 1464.0,706.8 1468.9,715.2"/>
<polygon class="a" points="1464.8,717.9 1476.2,726.5 1473.0,712.6"/>
<path class="e" d="M1565.4,596.0L1565.4,633.1"/>
<polygon class="a" points="1560.5,633.1 1565.4,646.5 1570.3,633.1"/>
<path class="e" d="M1602.3,596.0L1716.9,642.3"/>
<polygon class="a" points="1715.3,647.0 1729.6,646.5 1718.4,637.7"/>
<path class="e" d="M133.9,595.9L173.3,637.0"/>
<polygon class="a" points="169.8,640.4 182.7,646.5 176.8,633.5"/>
<path class="e" d="M104.9,596.5C99.7,603.4 93.9,610.0 89.2,617.3C85.0,623.8 81.0,630.6 78.2,637.8C75.9,643.7 74.1,650.3 73.9,656.5C73.8,661.6 74.9,667.4 77.3,671.9C80.0,677.1 84.4,682.0 89.2,685.5C95.2,690.0 102.6,692.9 109.7,695.8C120.8,700.3 132.2,704.4 143.8,707.7C157.8,711.8 172.2,714.8 186.5,718.0C202.7,721.6 219.1,724.6 235.3,727.9"/>
<polygon class="a" points="234.6,732.8 248.6,729.9 236.1,723.1"/>
<path class="e" d="M429.3,596.0L429.3,633.1"/>
<polygon class="a" points="424.4,633.1 429.3,646.5 434.2,633.1"/>
<path class="e" d="M620.2,595.7L599.5,634.8"/>
<polygon class="a" points="595.2,632.5 593.1,646.6 603.8,637.2"/>
<path class="e" d="M637.6,595.7L666.7,635.6"/>
<polygon class="a" points="662.7,638.4 674.4,646.6 670.8,632.8"/>
<path class="e" d="M695.7,595.0L1029.4,652.9"/>
<polygon class="a" points="1028.6,657.7 1042.6,655.2 1030.2,648.1"/>
<path class="e" d="M861.5,595.5C821.1,604.5 780.7,613.6 740.3,622.5C703.2,630.7 666.0,638.8 628.8,646.9"/>
<polygon class="a" points="627.7,642.2 615.8,650.1 630.0,651.7"/>
<path class="e" d="M891.7,595.7L741.2,642.9"/>
<polygon class="a" points="739.7,638.2 728.5,647.1 742.8,647.5"/>
<path class="e" d="M910.5,595.7L828.5,640.4"/>
<polygon class="a" points="826.2,636.1 816.6,646.6 830.7,644.8"/>
<path class="e" d="M938.5,595.7L937.2,633.2"/>
<polygon class="a" points="932.3,633.0 936.7,646.6 942.1,633.4"/>
<path class="e" d="M964.3,595.7L1043.4,639.0"/>
<polygon class="a" points="1040.6,643.0 1054.4,646.6 1046.2,635.0"/>
<path class="e" d="M989.3,595.7C1026.2,606.4 1063.2,616.8 1100.0,627.7C1126.3,635.5 1152.5,643.6 1178.7,651.6"/>
<polygon class="a" points="1177.8,656.4 1191.9,654.0 1179.6,646.8"/>
<path class="e" d="M1016.1,586.5C1044.1,588.4 1072.0,590.2 1100.0,592.1C1150.1,595.5 1200.1,599.3 1250.2,602.6C1310.1,606.5 1370.1,609.4 1430.0,613.6C1492.6,618.0 1555.1,623.2 1617.7,628.3C1661.5,631.9 1705.3,636.4 1749.1,639.5C1789.4,642.3 1829.7,643.3 1870.0,646.1C1916.0,649.3 1961.9,653.8 2007.8,657.7"/>
<polygon class="a" points="2007.5,662.6 2021.2,658.7 2008.2,652.8"/>
<path class="e" d="M948.1,596.6C959.7,612.1 969.5,629.5 982.9,643.2C994.7,655.3 1008.9,666.0 1023.8,674.0C1043.0,684.4 1064.4,691.5 1085.3,698.5C1105.4,705.2 1126.0,710.9 1146.7,714.9C1166.9,718.8 1187.6,721.2 1208.2,722.1C1228.6,722.9 1249.2,721.6 1269.6,720.0C1288.2,718.6 1306.7,714.9 1325.3,713.0C1350.3,710.4 1375.3,708.1 1400.4,706.3C1410.2,705.6 1420.1,705.5 1430.0,705.6C1440.0,705.7 1450.0,706.0 1460.0,706.8C1473.5,707.9 1487.1,709.3 1500.5,711.3C1517.3,713.8 1534.0,717.1 1550.6,720.5C1560.7,722.6 1570.7,725.4 1580.8,727.8"/>
<polygon class="a" points="1579.8,732.6 1593.9,730.6 1581.8,723.0"/>
<path class="e" d="M921.4,596.6C913.2,604.6 903.0,611.3 896.9,620.7C891.1,629.6 886.8,641.0 885.6,651.4C884.7,659.4 886.2,669.4 890.7,676.0C898.2,687.1 910.4,696.3 921.4,704.7C926.8,708.8 933.9,710.5 940.0,713.7C953.7,720.8 966.9,729.1 981.0,735.5C998.8,743.6 1017.2,750.6 1035.6,757.3C1053.6,763.8 1071.9,769.6 1090.2,775.1C1108.3,780.5 1126.4,786.0 1144.8,790.1C1168.7,795.4 1193.0,798.8 1217.1,803.1"/>
<polygon class="a" points="1215.9,807.9 1230.1,806.4 1218.3,798.4"/>
<path class="e" d="M2338.6,595.8C2296.5,603.9 2254.2,611.3 2212.2,620.1C2172.4,628.5 2132.9,638.3 2093.3,647.4"/>
<polygon class="a" points="2092.2,642.7 2080.3,650.6 2094.5,652.2"/>
<path class="e" d="M2392.4,595.8C2365.7,604.3 2339.1,613.1 2312.3,621.3C2291.2,627.8 2270.1,634.1 2248.9,640.0C2233.8,644.2 2218.5,647.4 2203.4,651.4C2188.2,655.4 2173.2,660.1 2157.9,663.9C2142.8,667.7 2127.6,670.8 2112.4,674.1C2101.1,676.5 2089.7,679.0 2078.3,681.0C2067.0,683.0 2055.5,684.7 2044.1,686.1C2032.8,687.5 2021.4,688.6 2010.0,689.5C1990.1,691.0 1970.2,692.5 1950.3,693.2C1932.0,693.9 1913.6,693.5 1895.2,693.8C1870.2,694.2 1845.1,694.3 1820.1,695.5C1803.4,696.3 1786.7,697.9 1770.1,700.0C1753.3,702.1 1736.6,704.7 1720.0,708.0C1705.1,711.0 1690.4,714.9 1675.7,718.8C1665.4,721.5 1655.2,724.8 1644.9,727.8"/>
<polygon class="a" points="1643.2,723.2 1632.4,732.6 1646.7,732.4"/>
<path class="e" d="M2426.2,595.8L2402.4,635.0"/>
<polygon class="a" points="2398.2,632.6 2395.7,646.6 2406.7,637.5"/>
<path class="e" d="M2441.2,595.8L2455.1,634.1"/>
<polygon class="a" points="2450.6,635.9 2460.0,646.6 2459.7,632.3"/>
<path class="e" d="M2457.5,595.8L2516.9,639.2"/>
<polygon class="a" points="2514.2,643.3 2528.1,646.6 2519.6,635.1"/>
<path class="e" d="M2475.0,595.8L2593.3,641.6"/>
<polygon class="a" points="2591.4,646.2 2605.7,646.6 2595.1,637.1"/>
<path class="e" d="M2536.7,593.1C2555.0,596.7 2573.4,599.8 2591.5,604.0C2606.4,607.4 2621.3,611.3 2635.9,615.9C2647.9,619.7 2660.0,623.8 2671.4,629.2C2678.8,632.7 2686.5,636.9 2692.1,642.5C2696.3,646.7 2700.5,653.1 2700.9,658.8C2701.4,665.4 2698.2,673.1 2695.0,679.5C2689.3,690.9 2682.1,701.8 2674.3,712.0C2666.3,722.5 2657.3,732.5 2647.7,741.6C2639.6,749.3 2630.5,756.1 2621.1,762.3C2611.7,768.5 2601.8,774.3 2591.5,778.6C2577.2,784.6 2562.2,789.5 2547.1,793.4C2527.6,798.4 2507.7,801.5 2487.9,805.2C2463.3,809.8 2438.5,813.6 2414.0,818.5C2397.1,821.9 2380.4,826.0 2363.7,830.0C2333.4,837.3 2303.3,845.9 2272.9,852.6C2234.2,861.2 2195.4,868.9 2156.4,875.9C2130.7,880.5 2104.7,884.1 2078.8,887.5C2052.5,891.0 2026.1,893.5 1999.7,896.6"/>
<polygon class="a" points="1999.2,891.7 1986.4,898.0 2000.3,901.4"/>
<path class="e" d="M222.8,675.5L300.8,720.9"/>
<polygon class="a" points="298.7,725.3 312.9,726.6 302.8,716.5"/>
<path class="e" d="M338.7,755.6L338.7,793.0"/>
<polygon class="a" points="333.8,793.0 338.7,806.4 343.6,793.0"/>
<path class="e" d="M428.8,748.8C500.5,754.7 572.3,760.4 644.0,766.4C796.0,779.2 948.0,792.4 1100.0,805.1C1134.7,808.0 1169.5,810.5 1204.3,813.2"/>
<polygon class="a" points="1203.8,818.1 1217.6,814.4 1204.7,808.3"/>
<path class="e" d="M1588.1,675.7L1652.4,720.8"/>
<polygon class="a" points="1650.3,725.2 1664.5,726.5 1654.5,716.4"/>
<path class="e" d="M1687.2,675.2C1660.0,679.4 1632.8,683.8 1605.5,687.9C1583.7,691.2 1561.8,693.8 1540.0,697.4C1516.6,701.3 1493.3,705.9 1470.0,710.5C1445.8,715.3 1421.7,720.5 1397.6,725.6"/>
<polygon class="a" points="1396.4,720.8 1384.6,728.8 1398.8,730.3"/>
<path class="e" d="M1738.8,675.7L1644.2,724.0"/>
<polygon class="a" points="1641.9,719.6 1632.4,730.3 1646.5,728.3"/>
<path class="e" d="M1801.4,675.7L1911.7,721.4"/>
<polygon class="a" points="1909.8,725.9 1924.0,726.8 1913.7,716.9"/>
<path class="e" d="M1454.9,755.8L1347.4,800.9"/>
<polygon class="a" points="1345.3,796.5 1335.3,806.6 1349.5,805.3"/>
<path class="e" d="M1476.2,755.8C1463.4,770.6 1451.4,786.0 1437.9,800.1C1426.1,812.5 1413.5,824.3 1400.4,835.2C1388.5,845.1 1375.5,853.7 1362.8,862.7C1354.4,868.7 1345.6,874.3 1337.1,880.1"/>
<polygon class="a" points="1334.7,875.8 1325.3,886.5 1339.4,884.4"/>
<path class="e" d="M1532.5,755.8C1603.0,779.8 1673.5,803.7 1744.0,827.7C1802.3,847.5 1860.6,867.3 1918.8,887.1"/>
<polygon class="a" points="1917.2,891.8 1931.5,891.5 1920.4,882.5"/>
<path class="e" d="M1899.2,748.8C1839.5,756.1 1779.7,763.3 1720.0,770.6C1612.6,783.8 1505.3,797.2 1397.9,810.5"/>
<polygon class="a" points="1397.2,805.6 1384.6,812.2 1398.5,815.3"/>
<path class="e" d="M1959.0,756.0L1959.0,873.1"/>
<polygon class="a" points="1954.1,873.1 1959.0,886.5 1963.9,873.1"/>
<path class="e" d="M1301.5,835.7L1301.5,873.1"/>
<polygon class="a" points="1296.6,873.1 1301.5,886.5 1306.4,873.1"/>
<path class="e" d="M1384.6,831.4C1504.4,846.0 1624.2,860.5 1744.0,875.2C1802.1,882.3 1860.1,889.6 1918.2,896.8"/>
<polygon class="a" points="1917.6,901.7 1931.5,898.5 1918.8,891.9"/>
</svg></body></html>
